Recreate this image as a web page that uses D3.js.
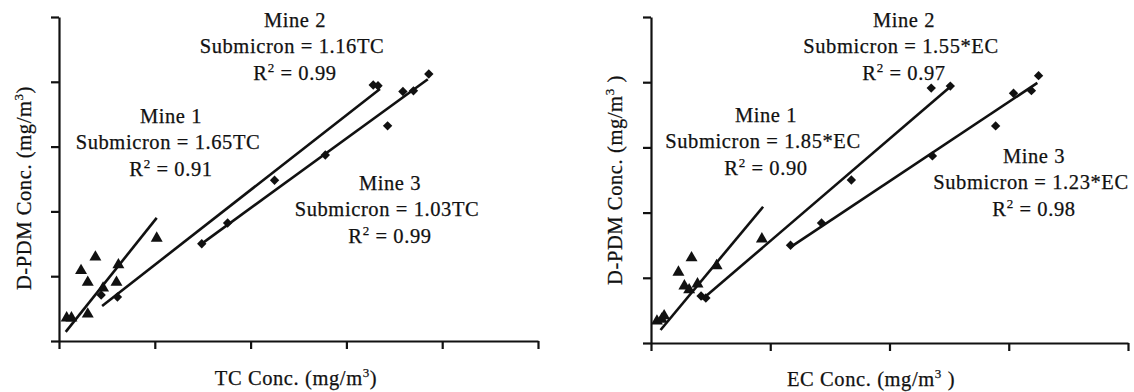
<!DOCTYPE html>
<html>
<head>
    <meta charset="utf-8">
    <style>
        body { margin: 0; background: #fff; }
        svg { display: block; }
        text {
            font-family: 'Liberation Serif', 'Times New Roman', serif;
            font-size: 20.5px;
            letter-spacing: 0.6px;
            fill: #111;
            stroke: #111;
            stroke-width: 0.25px;
        }
        .axis path, .axis line { stroke: #111; stroke-width: 2.2; }
        .fit { stroke: #111; stroke-width: 2.6; fill: none; }
        .pt { fill: #111; }
    </style>
</head>
<body>
<svg width="1134" height="392"></svg>

<script src="https://d3js.org/d3.v7.min.js"></script>
<script>
    // ---- TC panel (one tick = 1 unit) ----
    let tcMine1 = [[0.08, 0.34], [0.13, 0.34], [0.30, 0.40], [0.23, 1.07], [0.38, 1.28],
                   [0.30, 0.89], [0.46, 0.80], [0.62, 1.16], [0.60, 0.89], [1.02, 1.57]]
    let tcMine2 = [[0.44, 0.71], [0.61, 0.68], [2.25, 2.48], [3.28, 3.95], [3.33, 3.94]]
    let tcMine3 = [[1.49, 1.50], [1.76, 1.82], [2.78, 2.87], [3.43, 3.32], [3.59, 3.85],
                   [3.70, 3.86], [3.86, 4.12]]
    // fitted lines, [start, end]
    let tcFit1 = [[0.07, 0.14], [1.02, 1.90]]
    let tcFit2 = [[0.45, 0.54], [3.35, 3.89]]
    let tcFit3 = [[1.47, 1.48], [3.85, 4.04]]

    // ---- EC panel ----
    let ecMine1 = [[0.05, 0.32], [0.09, 0.35], [0.11, 0.40], [0.23, 1.07], [0.34, 1.29],
                   [0.28, 0.86], [0.32, 0.80], [0.55, 1.17], [0.39, 0.89], [0.93, 1.58]]
    let ecMine2 = [[0.42, 0.72], [0.46, 0.69], [1.68, 2.50], [2.35, 3.91], [2.51, 3.94]]
    let ecMine3 = [[1.17, 1.50], [1.43, 1.84], [2.36, 2.87], [2.89, 3.33], [3.04, 3.83],
                   [3.19, 3.87], [3.25, 4.10]]
    let ecFit1 = [[0.08, 0.20], [0.94, 2.09]]
    let ecFit2 = [[0.43, 0.67], [2.51, 3.93]]
    let ecFit3 = [[1.17, 1.47], [3.24, 3.99]]

    let yTicks = [0, 1, 2, 3, 4, 5]
    let tcTicks = [0, 1, 2, 3, 4, 5]
    let ecTicks = [0, 1, 2, 3, 4]

    let tcNotes = [
        ["Mine 2", "Submicron = 1.16TC", "0.99"],
        ["Mine 1", "Submicron = 1.65TC", "0.91"],
        ["Mine 3", "Submicron = 1.03TC", "0.99"]
    ]
    let ecNotes = [
        ["Mine 2", "Submicron = 1.55*EC", "0.97"],
        ["Mine 1", "Submicron = 1.85*EC", "0.90"],
        ["Mine 3", "Submicron = 1.23*EC", "0.98"]
    ]

    let svg = d3.select("svg")

    let triangle = d3.symbol().type(d3.symbolTriangle).size(62)
    let diamond = d3.symbol().type(d3.symbolSquare).size(44)

    function panel(o) {
        let x = d3.scaleLinear().domain([0, o.xTicks[o.xTicks.length - 1]]).range(o.xRange)
        let y = d3.scaleLinear().domain([0, 5]).range(o.yRange)
        let g = svg.append("g")

        g.append("g")
            .attr("class", "axis")
            .attr("transform", "translate(0," + o.yRange[0] + ")")
            .call(d3.axisBottom(x).tickValues(o.xTicks).tickFormat("").tickSize(8).tickSizeOuter(0))

        g.append("g")
            .attr("class", "axis")
            .attr("transform", "translate(" + o.xRange[0] + ",0)")
            .call(d3.axisLeft(y).tickValues(yTicks).tickFormat("").tickSize(8).tickSizeOuter(0))

        let line = d3.line().x(d => x(d[0])).y(d => y(d[1]))
        o.fits.forEach(f => {
            g.append("path").attr("class", "fit").attr("d", line(f))
        })

        g.selectAll(".tri")
            .data(o.m1)
            .join("path")
            .attr("class", "pt")
            .attr("d", triangle)
            .attr("transform", d => "translate(" + x(d[0]) + "," + (y(d[1]) - 1) + ")")

        g.selectAll(".dia")
            .data(o.m2.concat(o.m3))
            .join("path")
            .attr("class", "pt")
            .attr("d", diamond)
            .attr("transform", d => "translate(" + x(d[0]) + "," + y(d[1]) + ") rotate(45)")

        // equation notes
        o.notes.forEach((n, i) => {
            let p = o.notePos[i]
            g.append("text").attr("x", p[0]).attr("y", p[1]).attr("text-anchor", "middle").text(n[0])
            g.append("text").attr("x", p[0] - 3).attr("y", p[1] + 26).attr("text-anchor", "middle").text(n[1])
            let r = g.append("text").attr("x", p[0]).attr("y", p[1] + 53).attr("text-anchor", "middle")
            r.append("tspan").text("R")
            r.append("tspan").attr("dy", -8).style("font-size", "13px").text("2")
            r.append("tspan").attr("dy", 8).text(" = " + n[2])
        })

        // axis titles
        let xt = g.append("text")
            .attr("x", o.xLabel[0]).attr("y", o.xLabel[1])
            .attr("text-anchor", "middle")
        xt.append("tspan").text(o.xName + " Conc. (mg/m")
        xt.append("tspan").attr("dy", -8).style("font-size", "13px").text("3")
        xt.append("tspan").attr("dy", 8).text(o.xClose)

        let yt = g.append("text")
            .attr("transform", "translate(" + o.yLabel[0] + "," + o.yLabel[1] + ") rotate(-90)")
            .attr("text-anchor", "middle")
        yt.append("tspan").text("D-PDM Conc. (mg/m")
        yt.append("tspan").attr("dy", -8).style("font-size", "13px").text("3")
        yt.append("tspan").attr("dy", 8).text(o.yClose)
    }

    panel({
        xRange: [59, 538], yRange: [341, 17], xTicks: tcTicks,
        m1: tcMine1, m2: tcMine2, m3: tcMine3, fits: [tcFit1, tcFit2, tcFit3],
        notes: tcNotes, notePos: [[295, 27], [171, 123], [390, 190]],
        xName: "TC", xClose: ")", xLabel: [296, 385],
        yClose: ")", yLabel: [31, 188]
    })

    panel({
        xRange: [651, 1128], yRange: [343, 17], xTicks: ecTicks,
        m1: ecMine1, m2: ecMine2, m3: ecMine3, fits: [ecFit1, ecFit2, ecFit3],
        notes: ecNotes, notePos: [[904, 27], [766, 122], [1034, 163]],
        xName: "EC", xClose: " )", xLabel: [871, 386],
        yClose: " )", yLabel: [622, 180]
    })
</script>
</body>
</html>
